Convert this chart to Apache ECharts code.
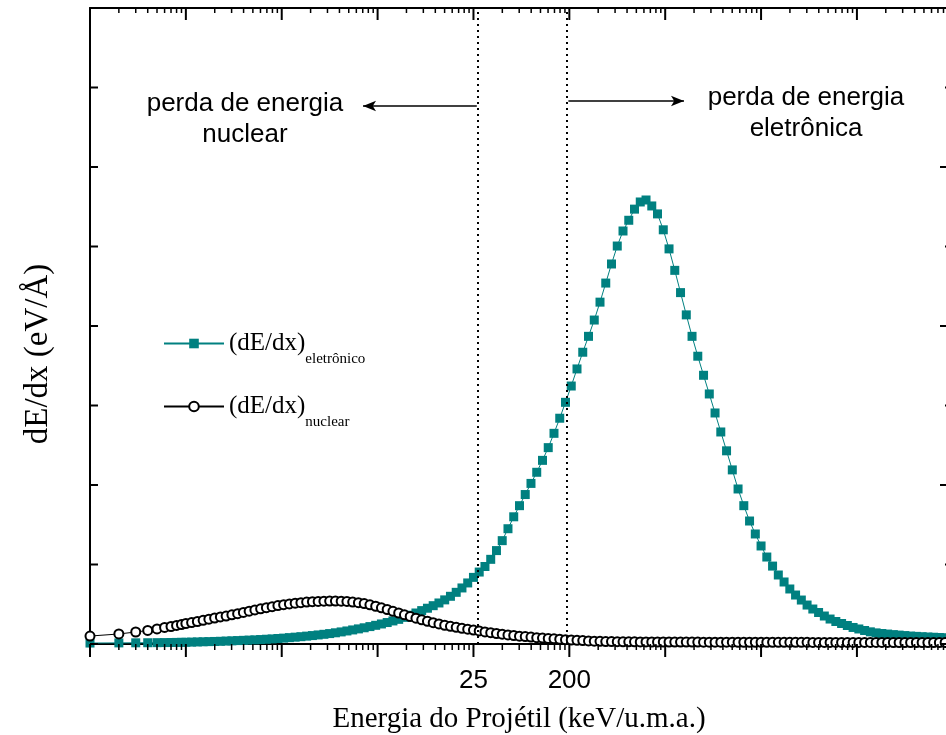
<!DOCTYPE html>
<html><head><meta charset="utf-8">
<script src="https://cdn.jsdelivr.net/npm/echarts@6/dist/echarts.min.js"></script>
<style>html,body{margin:0;padding:0;background:#fff}#c{width:946px;height:735px}</style>
</head><body><div id="c"></div>
<script>
// x positions in decades (log10 of energy, arbitrary origin)
const logEnergy = [0, 0.301, 0.477, 0.602, 0.699, 0.778, 0.845, 0.903, 0.954, 1.0,
  1.06,1.12,1.18,1.24,1.30,1.36,1.42,1.48,1.54,1.60,
  1.66,1.72,1.78,1.84,1.90,1.96,2.02,2.08,2.14,2.20,
  2.26,2.32,2.38,2.44,2.50,2.56,2.62,2.68,2.74,2.80,
  2.86,2.92,2.98,3.04,3.10,3.16,3.22,3.28,3.34,3.40,
  3.46,3.52,3.58,3.64,3.70,3.76,3.82,3.88,3.94,4.00,
  4.06,4.12,4.18,4.24,4.30,4.36,4.42,4.48,4.54,4.60,
  4.66,4.72,4.78,4.84,4.90,4.96,5.02,5.08,5.14,5.20,
  5.26,5.32,5.38,5.44,5.50,5.56,5.62,5.68,5.74,5.80,
  5.86,5.92,5.98,6.04,6.10,6.16,6.22,6.28,6.34,6.40,
  6.46,6.52,6.58,6.64,6.70,6.76,6.82,6.88,6.94,7.00,
  7.06,7.12,7.18,7.24,7.30,7.36,7.42,7.48,7.54,7.60,
  7.66,7.72,7.78,7.84,7.90,7.96,8.02,8.08,8.14,8.20,
  8.26,8.32,8.38,8.44,8.50,8.56,8.62,8.68,8.74,8.80,
  8.86,8.92];

const eletronico = [0.012,0.014,0.015,0.016,0.017,0.018,0.019,0.020,0.021,0.022,
  0.024,0.026,0.028,0.030,0.032,0.034,0.037,0.040,0.043,0.046,
  0.049,0.052,0.056,0.060,0.064,0.069,0.074,0.080,0.086,0.092,
  0.099,0.106,0.114,0.122,0.131,0.141,0.152,0.164,0.177,0.190,
  0.204,0.219,0.235,0.252,0.270,0.290,0.310,0.335,0.362,0.390,
  0.420,0.450,0.482,0.516,0.555,0.600,0.650,0.705,0.768,0.838,
  0.905,0.975,1.065,1.175,1.300,1.450,1.600,1.740,1.880,2.020,
  2.160,2.310,2.470,2.650,2.840,3.040,3.245,3.460,3.670,3.870,
  4.075,4.300,4.540,4.780,5.006,5.195,5.330,5.470,5.560,5.585,
  5.510,5.410,5.210,4.970,4.700,4.420,4.140,3.870,3.620,3.380,
  3.145,2.906,2.667,2.430,2.190,1.950,1.740,1.547,1.384,1.233,
  1.094,0.980,0.868,0.780,0.692,0.616,0.553,0.490,0.440,0.396,
  0.352,0.314,0.283,0.258,0.233,0.208,0.189,0.170,0.153,0.140,
  0.132,0.125,0.118,0.112,0.106,0.100,0.096,0.092,0.088,0.085,
  0.082,0.079];

const nuclear = [0.100,0.126,0.151,0.170,0.189,0.208,0.220,0.233,0.245,0.258,
  0.270,0.283,0.298,0.312,0.327,0.340,0.352,0.367,0.382,0.397,
  0.413,0.428,0.443,0.457,0.470,0.483,0.494,0.504,0.513,0.520,
  0.527,0.532,0.536,0.538,0.540,0.540,0.538,0.535,0.528,0.520,
  0.508,0.493,0.475,0.455,0.434,0.411,0.390,0.367,0.346,0.325,
  0.304,0.286,0.268,0.252,0.236,0.223,0.210,0.197,0.186,0.175,
  0.164,0.152,0.142,0.132,0.123,0.114,0.107,0.099,0.093,0.087,
  0.080,0.075,0.070,0.065,0.060,0.055,0.050,0.047,0.043,0.039,
  0.036,0.034,0.031,0.030,0.029,0.028,0.027,0.027,0.026,0.026,
  0.025,0.025,0.025,0.025,0.024,0.024,0.024,0.024,0.024,0.023,
  0.023,0.023,0.023,0.023,0.023,0.022,0.022,0.022,0.022,0.022,
  0.022,0.022,0.021,0.021,0.021,0.021,0.021,0.021,0.020,0.020,
  0.020,0.020,0.020,0.020,0.020,0.020,0.020,0.020,0.020,0.020,
  0.020,0.020,0.019,0.019,0.019,0.019,0.019,0.019,0.019,0.019,
  0.019,0.019];

const seriesNames = ['eletrônico', 'nuclear'];
const xTickPositions = [4, 5];
const xTickLabels = ['25', '200'];
const boundaryLines = [4.035, 4.975];
const xMajorTicks = [0, 1, 2, 3, 4, 5, 6, 7, 8];
const yMajorTicks = [0, 2, 4, 6, 8];
const yMinorTicks = [1, 3, 5, 7];
const xTitle = 'Energia do Projétil (keV/u.m.a.)';
const yTitle = 'dE/dx (eV/Å)';
const noteLeft = 'perda de energia\nnuclear';
const noteRight = 'perda de energia\neletrônica';

const XMIN = 0, XMAX = 8.95, YMIN = 0, YMAX = 8;
const xMinorTicks = [];
for (let k = 0; k < 9; k++) {
  for (let m = 2; m <= 9; m++) {
    const v = k + Math.log10(m);
    if (v <= XMAX) xMinorTicks.push(v);
  }
}
const labelMap = {};
xTickPositions.forEach((p, i) => { labelMap[p] = xTickLabels[i]; });

const black = '#000';
const teal = '#008080';

const xTickData = xMajorTicks.map(v => [v, 1]).concat(xMinorTicks.map(v => [v, 0]));
const yTickData = yMajorTicks.map(v => [v, 1]).concat(yMinorTicks.map(v => [v, 0]));

function tickLine(x1, y1, x2, y2, w) {
  return { type: 'line', shape: { x1, y1, x2, y2 }, style: { stroke: black, lineWidth: w } };
}

const chart = echarts.init(document.getElementById('c'), null, { renderer: 'canvas' });
chart.setOption({
  animation: false,
  backgroundColor: '#fff',
  grid: { left: 90, top: 8, width: 858, bottom: 91, outerBoundsMode: 'none', containLabel: false },
  xAxis: [
    { type: 'value', position: 'bottom', min: XMIN, max: XMAX, interval: 1,
      axisLine: { onZero: false, lineStyle: { color: black, width: 2 } },
      axisTick: { show: false },
      axisLabel: { color: black, fontFamily: 'Liberation Sans', fontSize: 26, margin: 24,
        formatter: v => labelMap[Math.round(v * 1000) / 1000] || '' },
      splitLine: { show: false },
      name: xTitle, nameLocation: 'middle', nameGap: 61,
      nameTextStyle: { color: black, fontFamily: 'Liberation Serif', fontSize: 29 } },
    { type: 'value', position: 'top', min: XMIN, max: XMAX, interval: 1,
      axisLine: { onZero: false, lineStyle: { color: black, width: 2 } },
      axisTick: { show: false }, axisLabel: { show: false }, splitLine: { show: false } }
  ],
  yAxis: [
    { type: 'value', position: 'left', min: YMIN, max: YMAX, interval: 2,
      axisLine: { show: true, onZero: false, lineStyle: { color: black, width: 2 } },
      axisTick: { show: false }, axisLabel: { show: false }, splitLine: { show: false } },
    { type: 'value', position: 'right', min: YMIN, max: YMAX, interval: 2,
      axisLine: { show: true, onZero: false, lineStyle: { color: black, width: 2 } },
      axisTick: { show: false }, axisLabel: { show: false }, splitLine: { show: false } }
  ],
  legend: {
    orient: 'vertical', left: 163, top: 320, padding: 0, itemWidth: 60, itemHeight: 12, itemGap: 16,
    selectedMode: false,
    data: [
      { name: seriesNames[0], lineStyle: { width: 2 } },
      { name: seriesNames[1] }
    ],
    formatter: name => '{a|(dE/dx)}{b|' + name + '}',
    textStyle: { color: black, rich: {
      a: { fontFamily: 'Liberation Serif', fontSize: 25, lineHeight: 28, color: black },
      b: { fontFamily: 'Liberation Serif', fontSize: 15, lineHeight: 17, padding: [32, 0, 0, 0], color: black }
    } }
  },
  series: [
    { name: seriesNames[0], type: 'line',
      data: logEnergy.map((x, i) => [x, eletronico[i]]),
      symbol: 'rect', symbolSize: 9, showAllSymbol: true,
      itemStyle: { color: teal, borderWidth: 0 },
      lineStyle: { color: teal, width: 1 },
      markLine: { silent: true, symbol: ['none', 'none'], label: { show: false },
        lineStyle: { color: black, type: [2, 4], width: 2 },
        data: boundaryLines.map(v => ({ xAxis: v })) } },
    { name: seriesNames[1], type: 'line',
      data: logEnergy.map((x, i) => [x, nuclear[i]]),
      symbol: 'emptyCircle', symbolSize: 9, showAllSymbol: true,
      itemStyle: { color: black, borderWidth: 1 },
      lineStyle: { color: black, width: 1 },
      markLine: { silent: true, label: { show: false },
        lineStyle: { color: black, type: 'solid', width: 1.5 },
        data: [
          [{ coord: [4.035, 6.767], symbol: 'none' }, { coord: [2.848, 6.767], symbol: 'arrow', symbolSize: [8, 13] }],
          [{ coord: [4.99, 6.83], symbol: 'none' }, { coord: [6.196, 6.83], symbol: 'arrow', symbolSize: [8, 13] }]
        ] } },
    { name: 'xTicks', type: 'custom', silent: true, clip: false, z: 5,
      data: xTickData,
      renderItem: (params, api) => {
        const x = api.value(0), major = api.value(1) === 1;
        const pb = api.coord([x, YMIN]), pt = api.coord([x, YMAX]);
        const w = major ? 2 : 1.5;
        return { type: 'group', children: [
          tickLine(pb[0], pb[1], pb[0], pb[1] + (major ? 13 : 6), w),
          tickLine(pt[0], pt[1], pt[0], pt[1] + (major ? 12 : 5), w)
        ] };
      } },
    { name: 'yTicks', type: 'custom', silent: true, clip: false, z: 5,
      data: yTickData,
      renderItem: (params, api) => {
        const y = api.value(0), major = api.value(1) === 1;
        const pl = api.coord([XMIN, y]), pr = api.coord([XMAX, y]);
        return { type: 'group', children: [
          tickLine(pl[0], pl[1], pl[0] + 8, pl[1], 2),
          tickLine(pr[0], pr[1], pr[0] - (major ? 8 : 3), pr[1], 2)
        ] };
      } }
  ],
  graphic: [
    { type: 'text', x: 245, y: 119, style: { text: noteLeft, fill: black, align: 'center', verticalAlign: 'middle',
      font: '26px "Liberation Sans"', lineHeight: 31 } },
    { type: 'text', x: 806, y: 113, style: { text: noteRight, fill: black, align: 'center', verticalAlign: 'middle',
      font: '26px "Liberation Sans"', lineHeight: 31 } },
    { type: 'text', x: 38, y: 354, rotation: Math.PI / 2, style: { text: yTitle, fill: black, align: 'center', verticalAlign: 'middle',
      font: '33px "Liberation Serif"' } }
  ]
});
</script>
</body></html>
